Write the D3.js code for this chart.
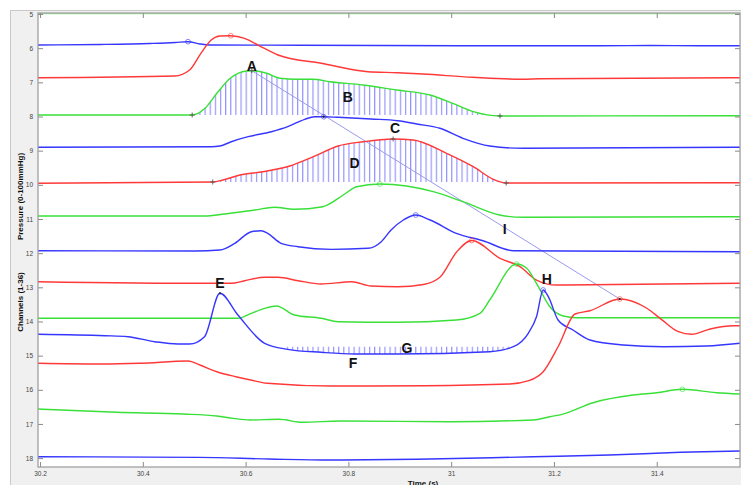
<!DOCTYPE html>
<html>
<head>
<meta charset="utf-8">
<script src="https://cdn.jsdelivr.net/npm/d3@7"></script>
<style>
  body { margin: 0; background: #fff; }
  text { font-family: "Liberation Sans", Arial, sans-serif; }
</style>
</head>
<body>
<svg id="chart" width="741" height="485"></svg>
<script>
// channel traces, [time (s), channel position]
var ch05 = [[30.196, 4.985], [31.562, 4.985]];
var ch06 = [[30.196, 5.907], [30.317, 5.892], [30.414, 5.863], [30.463, 5.834], [30.488, 5.81], [30.511, 5.877], [30.531, 5.907], [30.706, 5.913], [31.095, 5.93], [31.289, 5.93], [31.387, 5.92], [31.484, 5.93], [31.562, 5.93]];
var ch07 = [[30.196, 6.864], [30.462, 6.814], [30.491, 6.639], [30.513, 6.15], [30.533, 5.76], [30.55, 5.643], [30.571, 5.635], [30.598, 5.711], [30.624, 5.907], [30.663, 6.199], [30.747, 6.442], [30.838, 6.688], [30.896, 6.718], [30.945, 6.756], [31.042, 6.852], [31.14, 6.911], [31.173, 6.893], [31.562, 6.864]];
var ch08 = [[30.196, 7.956], [30.496, 7.956], [30.521, 7.76], [30.544, 7.321], [30.57, 6.882], [30.602, 6.668], [30.612, 6.659], [30.641, 6.735], [30.667, 6.882], [30.699, 6.911], [30.731, 6.911], [30.764, 6.981], [30.828, 7.078], [30.894, 7.224], [30.959, 7.37], [31.003, 7.613], [31.043, 7.859], [31.095, 7.985], [31.562, 7.976]];
var ch09 = [[30.196, 8.901], [30.533, 8.884], [30.55, 8.863], [30.572, 8.738], [30.605, 8.591], [30.65, 8.445], [30.682, 8.298], [30.715, 8.082], [30.734, 8.006], [30.752, 8.006], [30.78, 8.023], [30.844, 8.073], [30.896, 8.123], [30.933, 8.219], [30.978, 8.345], [31.023, 8.638], [31.075, 8.863], [31.14, 8.931], [31.562, 8.901]];
var ch10 = [[30.196, 9.955], [30.536, 9.917], [30.556, 9.859], [30.589, 9.712], [30.634, 9.616], [30.686, 9.449], [30.732, 9.177], [30.78, 8.863], [30.829, 8.738], [30.887, 8.659], [30.926, 8.688], [30.991, 9.077], [31.043, 9.47], [31.082, 9.838], [31.107, 9.947], [31.562, 9.938]];
var ch11 = [[30.196, 10.913], [30.52, 10.913], [30.559, 10.854], [30.618, 10.737], [30.656, 10.658], [30.695, 10.717], [30.75, 10.64], [30.79, 10.298], [30.816, 10.055], [30.861, 9.976], [30.913, 10.034], [30.965, 10.201], [31.023, 10.494], [31.094, 10.883], [31.14, 10.951], [31.562, 10.933]];
var ch12 = [[30.196, 11.928], [30.501, 11.937], [30.55, 11.908], [30.579, 11.712], [30.611, 11.372], [30.63, 11.343], [30.643, 11.419], [30.669, 11.712], [30.702, 11.811], [30.767, 11.888], [30.838, 11.858], [30.864, 11.665], [30.883, 11.322], [30.907, 11.03], [30.931, 10.883], [30.959, 11.03], [31.01, 11.419], [31.062, 11.636], [31.121, 11.928], [31.562, 11.958]];
var ch13 = [[30.196, 12.836], [30.52, 12.883], [30.572, 12.883], [30.598, 12.807], [30.637, 12.707], [30.663, 12.707], [30.702, 12.807], [30.747, 12.903], [30.806, 12.836], [30.844, 12.962], [30.896, 12.982], [30.946, 12.918], [30.978, 12.707], [31.011, 11.958], [31.04, 11.63], [31.095, 12.151], [31.134, 12.397], [31.166, 12.786], [31.205, 12.933], [31.562, 12.883]];
var ch14 = [[30.196, 13.907], [30.585, 13.907], [30.611, 13.761], [30.637, 13.615], [30.66, 13.548], [30.695, 13.811], [30.747, 13.907], [30.78, 14.007], [30.896, 14.024], [31.01, 13.957], [31.056, 13.761], [31.075, 13.372], [31.127, 12.318], [31.147, 12.444], [31.166, 12.883], [31.192, 13.568], [31.218, 13.84], [31.244, 13.89], [31.562, 13.89]];
var ch15 = [[30.196, 14.376], [30.326, 14.417], [30.371, 14.446], [30.423, 14.592], [30.468, 14.66], [30.491, 14.66], [30.52, 14.446], [30.55, 13.175], [30.585, 13.811], [30.637, 14.639], [30.682, 14.815], [30.747, 14.903], [30.812, 14.953], [30.896, 14.953], [31.075, 14.885], [31.121, 14.739], [31.15, 14.346], [31.166, 13.86], [31.179, 13.079], [31.189, 13.275], [31.208, 13.957], [31.237, 14.25], [31.27, 14.543], [31.335, 14.689], [31.413, 14.739], [31.497, 14.718], [31.562, 14.639]];
var ch16 = [[30.196, 15.225], [30.317, 15.245], [30.394, 15.225], [30.488, 15.157], [30.511, 15.275], [30.544, 15.471], [30.581, 15.617], [30.61, 15.714], [30.642, 15.81], [30.766, 15.889], [30.949, 15.88], [31.114, 15.831], [31.151, 15.734], [31.179, 15.471], [31.208, 14.739], [31.241, 13.781], [31.27, 13.685], [31.328, 13.342], [31.38, 13.606], [31.409, 13.937], [31.442, 14.3], [31.468, 14.376], [31.504, 14.221], [31.549, 14.124], [31.562, 14.124]];
var ch17 = [[30.196, 16.563], [30.349, 16.659], [30.479, 16.709], [30.544, 16.768], [30.576, 16.835], [30.608, 16.884], [30.665, 16.864], [30.711, 16.952], [30.784, 16.914], [30.998, 16.934], [31.16, 16.884], [31.192, 16.788], [31.216, 16.718], [31.276, 16.378], [31.354, 16.153], [31.4, 16.085], [31.45, 15.986], [31.516, 16.085], [31.562, 16.123]];
var ch18 = [[30.196, 17.959], [30.508, 17.977], [30.646, 18.026], [30.766, 18.056], [30.933, 18.035], [31.16, 17.959], [31.308, 17.909], [31.446, 17.83], [31.562, 17.792]];

var traces = [ch05, ch06, ch07, ch08, ch09, ch10, ch11, ch12, ch13, ch14, ch15, ch16, ch17, ch18];
var firstChannel = 5;

var xTicks = [30.2, 30.4, 30.6, 30.8, 31, 31.2, 31.4];
var yTicks = [5, 6, 7, 8, 9, 10, 11, 12, 13, 14, 15, 16, 17, 18];

// hatched regions: channel, start, end, level
var hatchChannel = [8, 10, 15];
var hatchFrom = [30.496, 30.536, 30.68];
var hatchTo = [31.095, 31.107, 31.121];
var hatchLevel = [7.956, 9.917, 14.74];

// peak markers: channel, time, value
var circleMarks = [[6, 30.488, 5.81], [7, 30.571, 5.635], [9, 30.752, 8.006], [11, 30.861, 9.976], [12, 30.931, 10.883], [13, 31.04, 11.63], [14, 31.127, 12.318], [15, 31.179, 13.079], [16, 31.328, 13.342], [17, 31.45, 15.986]];
var plusMarks = [[30.496, 7.956], [31.095, 7.985], [30.612, 6.659], [30.536, 9.917], [31.107, 9.947], [30.887, 8.659]];
var dotMarks = [[30.55, 13.175], [31.328, 13.342], [30.752, 8.006]];

var guideLine = [[30.612, 6.659], [31.328, 13.342]];

var labelText = ["A", "B", "C", "D", "E", "F", "G", "H", "I"];
var labelTime = [30.612, 30.799, 30.891, 30.812, 30.55, 30.809, 30.914, 31.186, 31.104];
var labelValue = [6.529, 7.42, 8.345, 9.352, 12.865, 15.207, 14.786, 12.766, 11.302];

var palette = ["#3636ff", "#ff3838", "#38e038"]; // blue, red, green cycle
function colorOf(ch) { return palette[(ch - 6 + 300) % 3]; }

var svg = d3.select("#chart");
var plotL = 38, plotR = 740, plotT = 13, plotB = 467;

var x = d3.scaleLinear().domain([30.196, 31.562]).range([plotL, plotR]);
var y = d3.scaleLinear().domain([4.97, 18.26]).range([plotT, plotB]);

// figure background
svg.append("rect").attr("x", 10.5).attr("y", 10.5).attr("width", 740).attr("height", 480)
  .attr("fill", "#f0f0f0").attr("stroke", "#c9c9c9");
svg.append("rect").attr("x", plotL).attr("y", plotT).attr("width", plotR - plotL).attr("height", plotB - plotT)
  .attr("fill", "#fff");

var defs = svg.append("defs");
defs.append("clipPath").attr("id", "plotclip").append("rect")
  .attr("x", plotL).attr("y", plotT).attr("width", plotR - plotL).attr("height", plotB - plotT);

var step = x(30.21) - x(30.2);
var pat = defs.append("pattern").attr("id", "hatch").attr("patternUnits", "userSpaceOnUse")
  .attr("x", x(30.5)).attr("y", 0).attr("width", step).attr("height", 20);
pat.append("line").attr("x1", 0.6).attr("x2", 0.6).attr("y1", 0).attr("y2", 20)
  .attr("stroke", "#8c8cff").attr("stroke-width", 1.1);

var g = svg.append("g").attr("clip-path", "url(#plotclip)");

// hatched areas
hatchChannel.forEach(function (ch, i) {
  var id = "hclip" + i;
  defs.append("clipPath").attr("id", id).append("rect")
    .attr("x", x(hatchFrom[i])).attr("y", plotT)
    .attr("width", x(hatchTo[i]) - x(hatchFrom[i])).attr("height", plotB - plotT);
  var area = d3.area()
    .x(function (d) { return x(d[0]); })
    .y0(y(hatchLevel[i]))
    .y1(function (d) { return y(d[1]); })
    .curve(d3.curveMonotoneX);
  g.append("path").datum(traces[ch - firstChannel])
    .attr("clip-path", "url(#" + id + ")")
    .attr("d", area)
    .attr("fill", "url(#hatch)");
});

// guide line between onsets
g.append("path").datum(guideLine)
  .attr("d", d3.line().x(function (d) { return x(d[0]); }).y(function (d) { return y(d[1]); }))
  .attr("stroke", "#9a9aee").attr("stroke-width", 1).attr("fill", "none");

var line = d3.line()
  .x(function (d) { return x(d[0]); })
  .y(function (d) { return y(d[1]); })
  .curve(d3.curveMonotoneX);

traces.forEach(function (tr, i) {
  g.append("path").datum(tr)
    .attr("d", line)
    .attr("fill", "none")
    .attr("stroke", colorOf(i + firstChannel))
    .attr("stroke-opacity", i === 0 ? 0.5 : 1)
    .attr("stroke-width", 1.4);
});

// markers
g.selectAll("circle.pk").data(circleMarks).enter().append("circle")
  .attr("class", "pk")
  .attr("cx", function (d) { return x(d[1]); })
  .attr("cy", function (d) { return y(d[2]); })
  .attr("r", 2.4)
  .attr("fill", "none")
  .attr("stroke", function (d) { return colorOf(d[0]); })
  .attr("stroke-opacity", 0.6)
  .attr("stroke-width", 1);

g.selectAll("circle.dot").data(dotMarks).enter().append("circle")
  .attr("class", "dot")
  .attr("cx", function (d) { return x(d[0]); })
  .attr("cy", function (d) { return y(d[1]); })
  .attr("r", 1.1)
  .attr("fill", "#222");

g.selectAll("path.plus").data(plusMarks).enter().append("path")
  .attr("class", "plus")
  .attr("d", function (d) {
    var px = x(d[0]), py = y(d[1]);
    return "M" + (px - 2.5) + "," + py + "H" + (px + 2.5) + "M" + px + "," + (py - 2.5) + "V" + (py + 2.5);
  })
  .attr("stroke", "#555").attr("stroke-width", 0.9);

// annotation letters
g.selectAll("text.ann").data(labelText).enter().append("text")
  .attr("class", "ann")
  .attr("x", function (d, i) { return x(labelTime[i]); })
  .attr("y", function (d, i) { return y(labelValue[i]); })
  .attr("dy", "0.36em")
  .attr("text-anchor", "middle")
  .attr("font-size", "14px")
  .attr("font-weight", "bold")
  .attr("fill", "#111")
  .text(function (d) { return d; });

// axes
function styleAxis(sel) {
  sel.select(".domain").remove();
  sel.selectAll(".tick line").attr("stroke", "#8a8a8a");
  sel.selectAll(".tick text").attr("fill", "#444").attr("font-size", "6.5px")
    .attr("font-family", "Liberation Sans, Arial, sans-serif");
}

svg.append("g").attr("transform", "translate(0," + plotB + ")")
  .call(d3.axisBottom(x).tickValues(xTicks).tickSize(-5).tickPadding(4)
    .tickFormat(function (d) { return String(+d.toFixed(1)); }))
  .call(styleAxis);
svg.append("g").attr("transform", "translate(0," + plotT + ")")
  .call(d3.axisTop(x).tickValues(xTicks).tickSize(-5).tickFormat(""))
  .call(styleAxis);
svg.append("g").attr("transform", "translate(" + plotL + ",0)")
  .call(d3.axisLeft(y).tickValues(yTicks).tickSize(-5).tickPadding(5))
  .call(styleAxis);
svg.append("g").attr("transform", "translate(" + plotR + ",0)")
  .call(d3.axisRight(y).tickValues(yTicks).tickSize(-5).tickFormat(""))
  .call(styleAxis);

svg.append("rect").attr("x", plotL).attr("y", plotT).attr("width", plotR - plotL).attr("height", plotB - plotT)
  .attr("fill", "none").attr("stroke", "#9a9a9a").attr("stroke-width", 1.2);

// axis titles
svg.append("text").attr("transform", "translate(23,196.5) rotate(-90)")
  .attr("text-anchor", "middle").attr("font-size", "8px").attr("font-weight", "bold").attr("fill", "#111")
  .text("Pressure (0-100mmHg)");
svg.append("text").attr("transform", "translate(23,302) rotate(-90)")
  .attr("text-anchor", "middle").attr("font-size", "8px").attr("font-weight", "bold").attr("fill", "#111")
  .text("Channels (1-36)");
svg.append("text").attr("x", 423).attr("y", 486)
  .attr("text-anchor", "middle").attr("font-size", "8px").attr("font-weight", "bold").attr("fill", "#111")
  .text("Time (s)");
</script>
</body>
</html>
